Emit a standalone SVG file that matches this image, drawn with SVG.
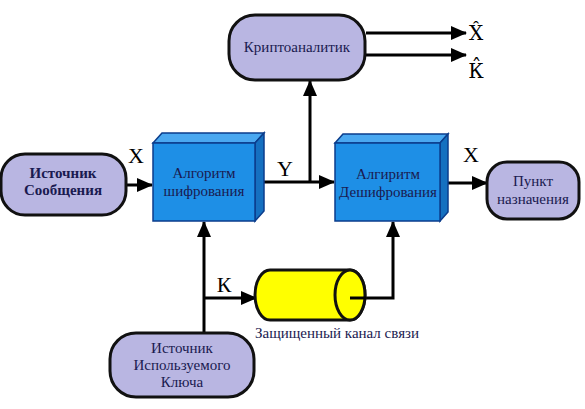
<svg xmlns="http://www.w3.org/2000/svg" width="585" height="409" viewBox="0 0 585 409">
<defs>
<style>
.node{fill:#b9b6e2;stroke:#111;stroke-width:3}
.t{font-family:"Liberation Serif","DejaVu Serif",serif;font-size:15px;fill:#1a1a50;text-anchor:middle}
.lbl{font-family:"Liberation Serif","DejaVu Serif",serif;font-size:22px;fill:#000;text-anchor:middle}
.hat{font-family:"DejaVu Serif","Liberation Serif",serif;font-size:20px;fill:#000;text-anchor:middle}
.front{fill:#1e8fe6;stroke:#0b3d8c;stroke-width:1.5}
.top{fill:#4aa8f0;stroke:#0b3d8c;stroke-width:1.5}
.side{fill:#1570c0;stroke:#0b3d8c;stroke-width:1.5}
.c{stroke:#000;stroke-width:3;fill:none}
</style>
<marker id="a" markerWidth="16" markerHeight="14" refX="15" refY="7" orient="auto" markerUnits="userSpaceOnUse">
<path d="M0,0 L16,7 L0,14 z" fill="#000"/>
</marker>
</defs>
<rect width="585" height="409" fill="#fff"/>
<g id="connectors">
<line class="c" x1="127" y1="185" x2="152" y2="185" marker-end="url(#a)"/>
<line class="c" x1="257" y1="182" x2="334" y2="182" marker-end="url(#a)"/>
<line class="c" x1="310" y1="182" x2="310" y2="81" marker-end="url(#a)"/>
<line class="c" x1="442" y1="183" x2="487" y2="183" marker-end="url(#a)"/>
<line class="c" x1="366" y1="33" x2="466" y2="33" marker-end="url(#a)"/>
<line class="c" x1="366" y1="55" x2="466" y2="55" marker-end="url(#a)"/>
<line class="c" x1="204" y1="333" x2="204" y2="222" marker-end="url(#a)"/>
<line class="c" x1="204" y1="298" x2="256" y2="298" marker-end="url(#a)"/>
<polyline class="c" points="350,298 393,298 393,222" marker-end="url(#a)"/>
<text class="lbl" x="136" y="163">X</text>
<text class="lbl" x="285" y="176">Y</text>
<text class="lbl" x="471" y="162">X</text>
<text class="lbl" x="224" y="292">К</text>
<text class="hat" x="476" y="40">X̂</text>
<text class="hat" x="476" y="78">К̂</text>
</g>
<g id="source">
<rect class="node" x="1" y="154" width="125" height="61" rx="24"/>
<text class="t" x="63" y="178" font-weight="bold" font-size="14">Источник</text>
<text class="t" x="63" y="195" font-weight="bold" font-size="14">Сообщения</text>
</g>
<g id="encrypt">
<polygon class="top" points="153,143 162,133 264,133 255,143"/>
<polygon class="side" points="255,143 264,133 264,211 255,221"/>
<rect class="front" x="153" y="143" width="102" height="78"/>
<text class="t" x="204" y="178">Алгоритм</text>
<text class="t" x="204" y="196">шифрования</text>
</g>
<g id="decrypt">
<polygon class="top" points="335,143 343,134 448,134 440,143"/>
<polygon class="side" points="440,143 448,134 448,212 440,221"/>
<rect class="front" x="335" y="143" width="105" height="78"/>
<text class="t" x="388" y="179">Алгиритм</text>
<text class="t" x="388" y="197">Дешифрования</text>
</g>
<g id="dest">
<rect class="node" x="487" y="162" width="92" height="57" rx="20"/>
<text class="t" x="533" y="186">Пункт</text>
<text class="t" x="533" y="204">назначения</text>
</g>
<g id="cryptanalyst">
<rect class="node" x="229" y="15" width="136" height="65" rx="26"/>
<text class="t" x="297" y="52">Криптоаналитик</text>
</g>
<g id="channel">
<path d="M270,270 L350,270 A15,25 0 0 1 350,320 L270,320 A15,25 0 0 1 270,270 z" fill="#ffff00" stroke="#111" stroke-width="3"/>
<ellipse cx="350" cy="295" rx="15" ry="25" fill="#ffff00" stroke="#111" stroke-width="3"/>
<line class="c" x1="350" y1="298" x2="366" y2="298"/>
<text class="t" x="337" y="338" fill="#000">Защищенный канал связи</text>
</g>
<g id="keysource">
<rect class="node" x="110" y="333" width="144" height="64" rx="26"/>
<text class="t" x="182" y="353">Источник</text>
<text class="t" x="182" y="370">Используемого</text>
<text class="t" x="182" y="387">Ключа</text>
</g>
</svg>
